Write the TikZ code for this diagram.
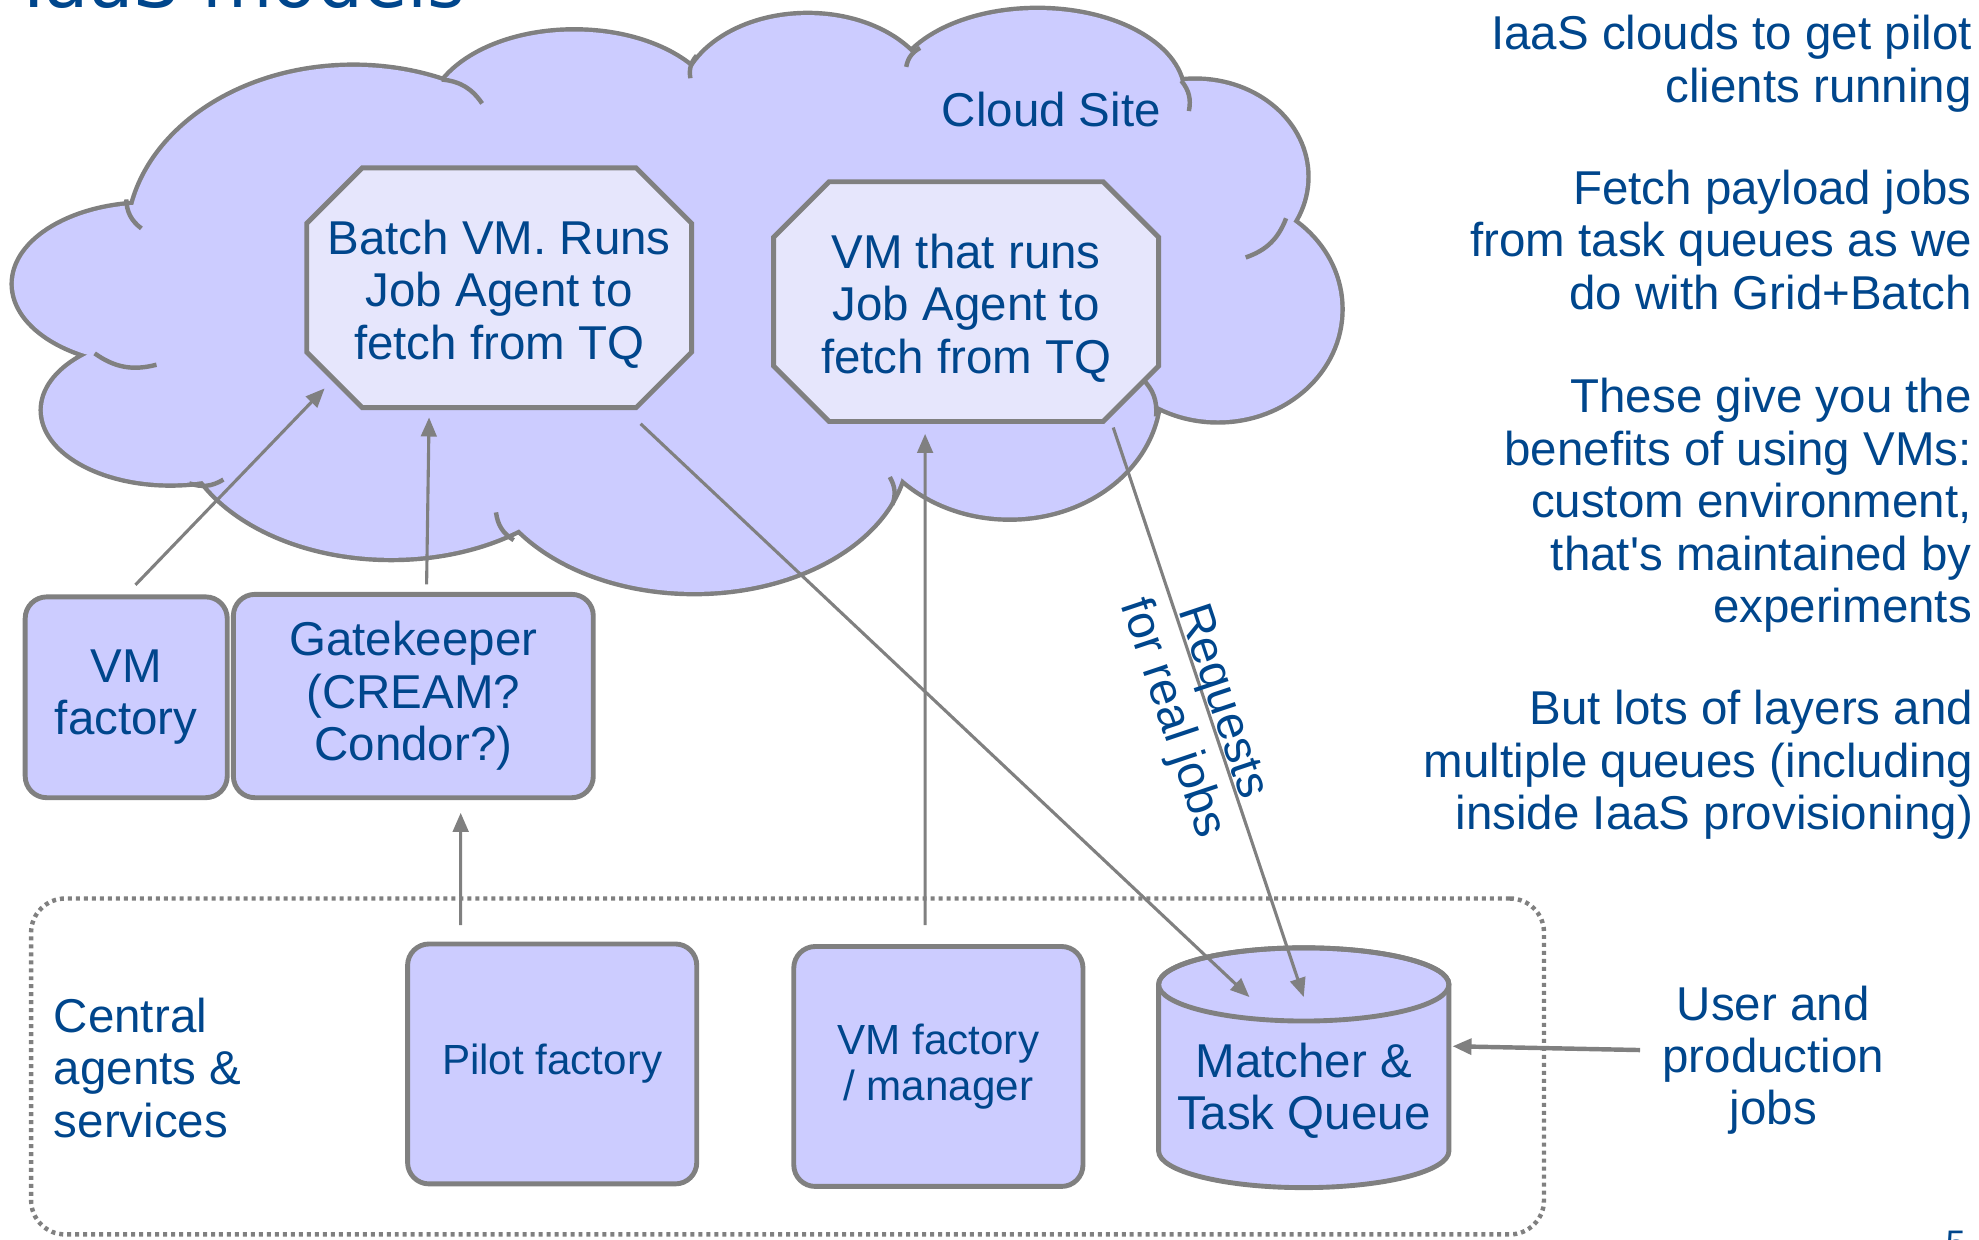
\documentclass[tikz,border=0pt]{standalone}
\usepackage{fontspec}
\setmainfont{Liberation Sans}
\newfontfamily\titlefont{DejaVu Sans}
\usetikzlibrary{arrows.meta}
\pgfdeclarelayer{bg}
\pgfsetlayers{bg,main}
\definecolor{edgegray}{RGB}{128,128,128}
\definecolor{cloudblue}{RGB}{204,204,255}
\definecolor{vmblue}{RGB}{230,230,252}
\definecolor{inkblue}{RGB}{0,70,140}
\newcommand{\mainsize}{\fontsize{10.7pt}{11.8pt}\selectfont}
\newcommand{\boxsize}{\fontsize{9.5pt}{10.5pt}\selectfont}
\tikzset{every node/.style={text=inkblue, font=\mainsize, inner sep=0pt, align=center}}
\tikzset{
    lobe/.style={fill=cloudblue, draw=edgegray, line width=2pt},
    lobefill/.style={fill=cloudblue},
    crease/.style={draw=edgegray, line width=1pt},
    octoline/.style={draw=edgegray, fill=vmblue, line width=1.1pt},
    vmtext/.style={minimum width=3.05cm, minimum height=1.9cm},
    service/.style={rectangle, rounded corners=0.17cm, draw=edgegray,
    	fill=cloudblue, line width=1.1pt},
    groupbox/.style={rectangle, rounded corners=0.27cm, draw=edgegray,
    	line width=1pt, dash pattern=on 0.9pt off 0.9pt,
    	minimum width=11.98cm, minimum height=2.66cm},
    note/.style={anchor=east, align=right},
    flow/.style={draw=edgegray, line width=0.7pt,
    	-{Triangle[length=4.3pt, width=3.5pt]}},
    userflow/.style={flow, line width=1pt}
}
\def\lobes{118/757/107/63, 135/657/101/58, 280/792/178/137, 455/887/115/70,
  640/900/100/70, 822/907/115/67, 947/842/88/76, 965/737/97/88,
  800/672/118/100, 550/627/168/114, 310/652/168/112}

\begin{document}
\begin{tikzpicture}[x=0.01cm, y=0.01cm]
  \useasboundingbox (0,0) rectangle (1568,982);
  \clip (0,0) rectangle (1568,982);

  \begin{pgfonlayer}{bg}
    % the cloud site
    \foreach \cx/\cy/\rx/\ry in \lobes
      \draw[lobe] (\cx,\cy) ellipse [x radius=\rx, y radius=\ry];
    \foreach \cx/\cy/\rx/\ry in \lobes
      \fill[lobefill] (\cx,\cy) ellipse [x radius=\rx, y radius=\ry];
    \fill[lobefill] (118,757) -- (280,792) -- (455,887) -- (640,900) -- (822,907)
      -- (947,842) -- (965,737) -- (800,672) -- (550,627) -- (310,652)
      -- (135,657) -- cycle;
    \foreach \ax/\ay/\bx/\by/\b in {100/824/112/801/-25, 350/919/382/900/25,
      552/938/547/920/-25, 729/944/718/929/-25, 936/918/942/894/25,
      1019/809/987/778/25, 916/652/905/682/-25, 707/582/705/604/-25,
      407/554/393/576/25, 150/599/177/602/-25, 75/702/124/693/-25}
      \draw[crease] (\ax,\ay) to[bend left=\b] (\bx,\by);
    % the two VMs
    \foreach \cx/\cy in {395.5/754, 765.5/743}
      \filldraw[octoline] (\cx-108.5,\cy+95) -- (\cx+108.5,\cy+95)
        -- (\cx+152.5,\cy+51) -- (\cx+152.5,\cy-51) -- (\cx+108.5,\cy-95)
        -- (\cx-108.5,\cy-95) -- (\cx-152.5,\cy-51) -- (\cx-152.5,\cy+51) -- cycle;
  \end{pgfonlayer}

  \node (title) [anchor=base west, font=\titlefont\fontsize{16.3pt}{19pt}\selectfont]
    at (18,976) {IaaS models};
  \node (site) at (833,895) {Cloud Site};
  \node (batch) [vmtext] at (395.5,749) {Batch VM. Runs\\Job Agent to\\fetch from TQ};
  \node (vmta) [vmtext] at (765.5,738) {VM that runs\\Job Agent to\\fetch from TQ};

  \node (vmf) [service, minimum width=1.6cm, minimum height=1.59cm]
    at (100,429.5) {VM\\factory};
  \node (gk) [service, minimum width=2.85cm, minimum height=1.61cm]
    at (327.5,430.5) {Gatekeeper\\(CREAM?\\Condor?)};

  \node (central) [groupbox] at (624,137) {};
  \node (agents) [anchor=west, align=left] at (42,136) {Central\\agents \&\\services};
  \node (pf) [service, font=\boxsize, minimum width=2.29cm, minimum height=1.9cm]
    at (437.5,139) {Pilot factory};
  \node (vmm) [service, font=\boxsize, minimum width=2.29cm, minimum height=1.9cm]
    at (743.5,137) {VM factory\\/ manager};

  \coordinate (tqtop) at (1033,202);
  \filldraw[fill=cloudblue, draw=edgegray, line width=1.1pt] (918,202) -- (918,70)
    arc[start angle=180, end angle=360, x radius=115, y radius=29] -- (1148,202)
    arc[start angle=0, end angle=180, x radius=115, y radius=29] -- cycle;
  \draw[edgegray, line width=1.1pt] (tqtop) ellipse [x radius=115, y radius=29];
  \node (tq) [minimum width=2.3cm] at (1033,117.5) {Matcher \&\\Task Queue};
  \node (uj) at (1405,142) {User and\\production\\jobs};

  \node (pilots) [note] at (1563,931.5) {IaaS clouds to get pilot\\clients running};
  \node (fetch) [note] at (1563,792) {Fetch payload jobs\\from task queues as we\\do with Grid+Batch};
  \node (gains) [note] at (1563,581.5) {These give you the\\benefits of using VMs:\\custom environment,\\that\textquotesingle s maintained by\\experiments};
  \node (layers) [note] at (1564,376) {But lots of layers and\\multiple queues (including\\inside IaaS provisioning)};
  \node (pageno) [anchor=north west, font=\fontsize{8pt}{9pt}\selectfont] at (1541,7) {5};

  \draw[flow, shorten <=3pt] (vmf.north) -- ([xshift=0.15cm, yshift=0.21cm]batch.south west);
  \draw[flow] ([xshift=0.105cm, yshift=0.06cm]gk.north) -- ([xshift=-0.555cm, yshift=-0.02cm]batch.south);
  \draw[flow] ([xshift=-0.725cm, yshift=0.13cm]pf.north) -- ([xshift=0.375cm, yshift=-0.1cm]gk.south);
  \draw[flow] ([xshift=-0.105cm, yshift=0.15cm]vmm.north) -- ([xshift=-0.325cm, yshift=-0.04cm]vmta.south);
  \draw[flow] ([xshift=1.12cm, yshift=-0.07cm]batch.south) -- ([xshift=-0.43cm, yshift=-0.1cm]tqtop);
  \draw[flow] ([xshift=1.165cm, yshift=0.01cm]vmta.south)
    -- node (req) [sloped, pos=0.49, yshift=-0.09cm] {Requests\\for real jobs} ([yshift=-0.1cm]tqtop);
  \draw[userflow] ([xshift=-0.17cm, yshift=0.08cm]uj.west) -- ([xshift=0.02cm, yshift=0.355cm]tq.east);

\end{tikzpicture}
\end{document}
